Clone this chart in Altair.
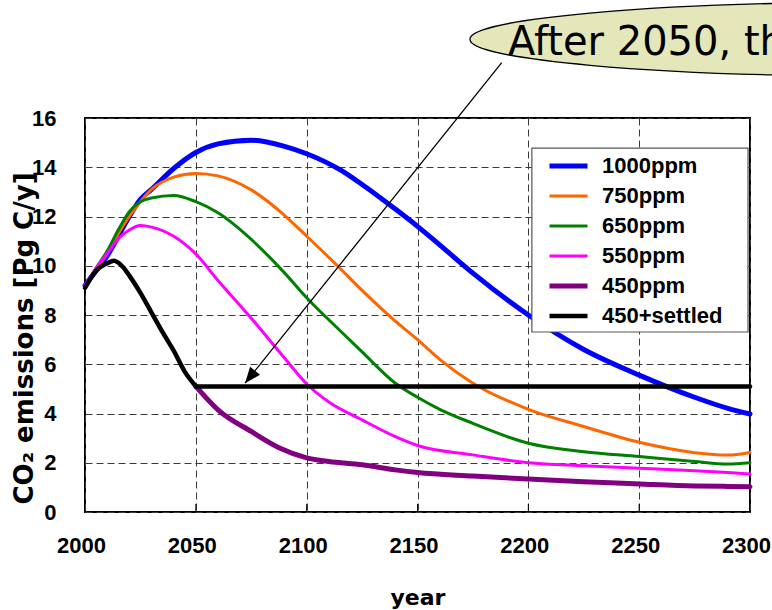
import math
import altair as alt
import pandas as pd

# --- emission pathways (Pg C per year) -------------------------------------
years_1000 = [2000, 2005, 2010, 2015, 2020, 2025, 2030, 2040, 2050, 2060, 2075, 2090,
              2100, 2115, 2125, 2140, 2150, 2160, 2175, 2200, 2225, 2250, 2275, 2290, 2300]
ppm1000 = [9.2, 9.8, 10.4, 11.2, 12.0, 12.7, 13.1, 13.95, 14.6, 14.95, 15.1, 14.85,
           14.55, 13.9, 13.3, 12.3, 11.6, 10.85, 9.7, 8.0, 6.6, 5.56, 4.66, 4.21, 3.98]

years_750 = [2000, 2005, 2010, 2015, 2020, 2025, 2030, 2040, 2050, 2060, 2075, 2090,
             2100, 2115, 2125, 2140, 2150, 2160, 2175, 2200, 2225, 2250, 2275, 2290, 2300]
ppm750 = [9.2, 9.85, 10.5, 11.3, 12.0, 12.6, 13.1, 13.6, 13.75, 13.65, 13.08, 12.05,
          11.2, 9.9, 9.0, 7.75, 7.0, 6.2, 5.23, 4.17, 3.47, 2.83, 2.41, 2.31, 2.42]

years_650 = [2000, 2005, 2010, 2015, 2020, 2025, 2030, 2040, 2050, 2060, 2075, 2090,
             2100, 2115, 2125, 2140, 2150, 2160, 2175, 2200, 2225, 2250, 2275, 2290, 2300]
ppm650 = [9.15, 9.9, 10.6, 11.45, 12.2, 12.6, 12.75, 12.85, 12.6, 12.15, 11.07, 9.71,
          8.7, 7.37, 6.5, 5.23, 4.66, 4.17, 3.6, 2.79, 2.45, 2.25, 2.05, 1.95, 2.0]

years_550 = [2000, 2005, 2010, 2015, 2020, 2025, 2030, 2040, 2050, 2060, 2075, 2090,
             2100, 2110, 2125, 2140, 2150, 2175, 2200, 2225, 2250, 2275, 2290, 2300]
ppm550 = [9.2, 9.9, 10.5, 11.1, 11.45, 11.63, 11.57, 11.2, 10.48, 9.4, 7.87, 6.25,
          5.2, 4.47, 3.74, 3.06, 2.7, 2.32, 2.0, 1.88, 1.78, 1.68, 1.6, 1.54]

years_450 = [2050, 2060, 2075, 2088, 2100, 2110, 2125, 2140, 2150, 2175, 2200,
             2225, 2250, 2275, 2290, 2300]
ppm450 = [5.1, 4.15, 3.27, 2.59, 2.2, 2.05, 1.92, 1.71, 1.6, 1.46, 1.34,
          1.23, 1.14, 1.06, 1.04, 1.03]

# 450ppm path until 2050, then emissions held constant
years_rise = [2000, 2005, 2010, 2013, 2017, 2020, 2025, 2030, 2035, 2040, 2045, 2050]
settled_rise = [9.1, 9.8, 10.1, 10.2, 9.96, 9.6, 8.9, 8.1, 7.3, 6.55, 5.7, 5.1]
years_flat = [2050, 2300]
settled_flat = [5.1, 5.1]

series_names = ["1000ppm", "750ppm", "650ppm", "550ppm", "450ppm", "450+settled"]
series_colors = ["#0000ff", "#ff6600", "#008000", "#ff00ff", "#800080", "#000000"]
series_widths = [5, 3, 3, 3, 5, 4.5]

x_ticks = [2000, 2050, 2100, 2150, 2200, 2250, 2300]
y_ticks = [0, 2, 4, 6, 8, 10, 12, 14, 16]
inner_ticks = [2050, 2100, 2150, 2200, 2250]

# callout: ellipse centre, text anchor, arrow start and tip (year, value)
callout_text = "After 2050, the"
ellipse_at = (2358.6, 19.2)
text_at = (2190.8, 18.56)
arrow_from = (2188.0, 18.25)
arrow_to = (2072.2, 5.23)

# legend frame corners (year, value)
legend_box = (2201.6, 14.78, 2299.1, 7.31)

W, H = 665, 394
X0, X1 = 2000, 2300
Y0, Y1 = 0, 16

rows = []
def add(name, xs, vs, part="a"):
    for yr, v in zip(xs, vs):
        rows.append({"year": yr, "value": v, "series": name, "part": part})

add("1000ppm", years_1000, ppm1000)
add("750ppm", years_750, ppm750)
add("650ppm", years_650, ppm650)
add("550ppm", years_550, ppm550)
add("450ppm", years_450, ppm450)
add("450+settled", years_rise, settled_rise, "a")
add("450+settled", years_flat, settled_flat, "b")
df = pd.DataFrame(rows)

bold_sans = "Liberation Sans"
title_font = "DejaVu Sans"

x_enc = alt.X(
    "year:Q",
    scale=alt.Scale(domain=[X0, X1], nice=False, zero=False),
    axis=alt.Axis(values=x_ticks, format="d", ticks=False, domain=False,
                  labelFont=bold_sans, labelFontSize=22, labelFontWeight="bold",
                  labelColor="black", labelPadding=23, labelFlush=False,
                  labelOffset=-4, labelOverlap=False,
                  title="year", titleFont=title_font, titleFontSize=22,
                  titleFontWeight="bold", titleColor="black",
                  titleBaseline="alphabetic", titleY=92,
                  grid=True, gridColor="#3a3a3a", gridDash=[7, 4], gridWidth=1),
)
y_enc = alt.Y(
    "value:Q",
    scale=alt.Scale(domain=[Y0, Y1], nice=False),
    axis=alt.Axis(values=y_ticks, ticks=False, domain=False,
                  labelFont=bold_sans, labelFontSize=22, labelFontWeight="bold",
                  labelColor="black", labelPadding=29,
                  title="CO₂ emissions [Pg C/y]", titleFont=title_font,
                  titleFontSize=26, titleFontWeight="bold", titleColor="black",
                  titleAngle=270, titleBaseline="alphabetic", titleAlign="center",
                  titleX=-53, titleY=220,
                  grid=True, gridColor="#3a3a3a", gridDash=[7, 4], gridWidth=1),
)

legend = alt.Legend(
    title=None, orient="none", legendX=447, legendY=33,
    symbolType="stroke", symbolSize=1444, symbolOffset=15,
    clipHeight=30, rowPadding=0, padding=0,
    labelFont=bold_sans, labelFontSize=22, labelFontWeight="bold",
    labelColor="black", labelOffset=12,
)
color_enc = alt.Color("series:N",
                      scale=alt.Scale(domain=series_names, range=series_colors),
                      legend=legend)
width_enc = alt.StrokeWidth("series:N",
                            scale=alt.Scale(type="ordinal", domain=series_names,
                                            range=series_widths),
                            legend=legend)

layers = []
for name in series_names:
    layers.append(
        alt.Chart(df)
        .transform_filter(alt.datum.series == name)
        .mark_line(interpolate="monotone", strokeCap="round")
        .encode(x=x_enc, y=y_enc, color=color_enc, strokeWidth=width_enc,
                detail="part:N")
    )

# short inner tick marks along the bottom edge
tick_df = pd.DataFrame({"year": inner_ticks, "value": [0] * len(inner_ticks),
                        "value2": [0.33] * len(inner_ticks)})
ticks_layer = alt.Chart(tick_df).mark_rule(color="black", strokeWidth=1).encode(
    x=x_enc, y=y_enc, y2="value2:Q")

# white frame behind the legend entries
box_df = pd.DataFrame({"year": [legend_box[0]], "value": [legend_box[1]],
                       "year2": [legend_box[2]], "value2": [legend_box[3]]})
legend_frame = alt.Chart(box_df).mark_rect(
    fill="white", stroke="#555555", strokeWidth=1.2).encode(
    x=x_enc, y=y_enc, x2="year2:Q", y2="value2:Q")

# callout balloon
ell_df = pd.DataFrame({"year": [ellipse_at[0]], "value": [ellipse_at[1]]})
ellipse = alt.Chart(ell_df).mark_point(
    shape="M -1 0 A 1 0.09 0 1 1 1 0 A 1 0.09 0 1 1 -1 0 Z",
    size=(2 * 410) ** 2, filled=True, fill="#e4e7b9", stroke="black",
    strokeWidth=1.3, opacity=1,
).encode(x=x_enc, y=y_enc)

txt_df = pd.DataFrame({"year": [text_at[0]], "value": [text_at[1]],
                       "label": [callout_text]})
callout = alt.Chart(txt_df).mark_text(
    align="left", baseline="alphabetic", font="DejaVu Sans", fontSize=40,
    color="black",
).encode(x=x_enc, y=y_enc, text="label:N")

arr_df = pd.DataFrame({"year": [arrow_from[0]], "value": [arrow_from[1]],
                       "year2": [arrow_to[0]], "value2": [arrow_to[1]]})
arrow_line = alt.Chart(arr_df).mark_rule(color="black", strokeWidth=1.3).encode(
    x=x_enc, y=y_enc, x2="year2:Q", y2="value2:Q")

dx = (arrow_to[0] - arrow_from[0]) * W / (X1 - X0)
dy = -(arrow_to[1] - arrow_from[1]) * H / (Y1 - Y0)
head_angle = math.degrees(math.atan2(dx, -dy)) % 360
head_df = pd.DataFrame({"year": [arrow_to[0]], "value": [arrow_to[1]]})
arrow_head = alt.Chart(head_df).mark_point(
    shape="M 0 0 L -0.4 1 L 0.4 1 Z", size=32 ** 2, filled=True,
    color="black", opacity=1, angle=head_angle,
).encode(x=x_enc, y=y_enc)

chart = (
    alt.layer(*layers, ticks_layer, legend_frame, arrow_line, arrow_head,
              ellipse, callout)
    .properties(width=W, height=H,
                padding={"left": 85, "top": 118, "right": 22, "bottom": 98},
                autosize=alt.AutoSizeParams(type="none"),
                background="white")
    .configure_view(stroke="black", strokeWidth=2)
)

chart.save("out.html", embed_options={"renderer": "svg", "actions": False})
